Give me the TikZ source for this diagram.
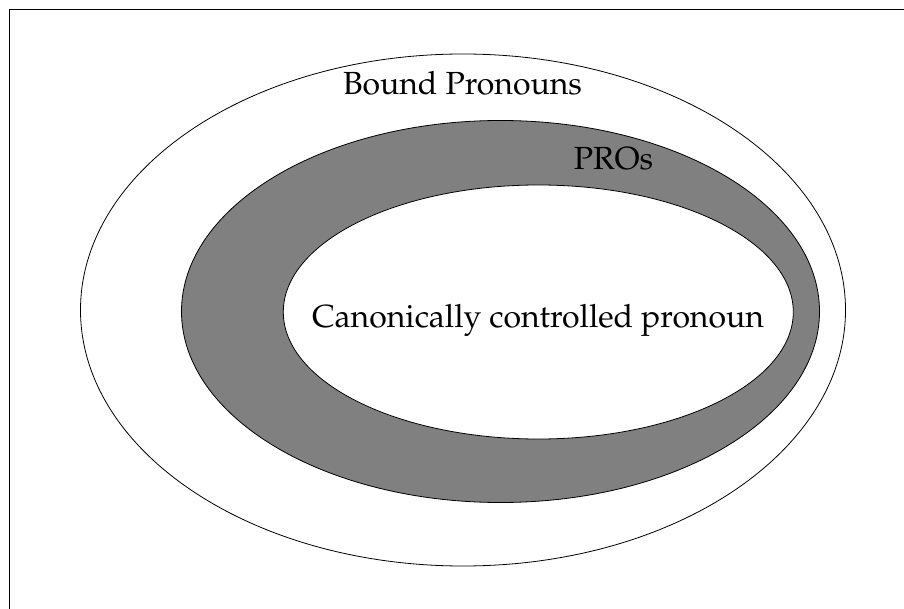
\documentclass[tikz,border=0pt]{standalone}
\usepackage[T1]{fontenc}
\usepackage{mathpazo}
\usepackage{tikz}
\usetikzlibrary{shapes.geometric}
\tikzstyle{frameline} = [line width=1.4pt, black]
\tikzstyle{set} = [ellipse, draw=black, line width=0.8pt, inner sep=0pt]
\tikzstyle{setlabel} = [anchor=base, inner sep=0pt, font=\fontsize{32}{38}\selectfont]

\begin{document}
\begin{tikzpicture}[x=1pt, y=-1pt]
\useasboundingbox (0,0) rectangle (904,609);
\coordinate (fbl) at (9.5,609);
\coordinate (ftl) at (9.5,9.5);
\coordinate (ftr) at (904,9.5);
\draw [frameline] (fbl) -- (ftl) -- (ftr);

\node (bound) [set, minimum width=765pt, minimum height=512pt] at (463,310) {};
\node (pros) [set, fill=gray, minimum width=638pt, minimum height=382pt] at (500.5,311.5) {};
\node (canon) [set, fill=white, minimum width=510pt, minimum height=254pt] at (538.3,312) {};

\node (boundText) [setlabel] at (462.5,95) {Bound Pronouns};
\node (prosText) [setlabel] at (613.5,170) {PROs};
\node (canonText) [setlabel] at (538,327) {Canonically controlled pronoun};
\end{tikzpicture}
\end{document}
